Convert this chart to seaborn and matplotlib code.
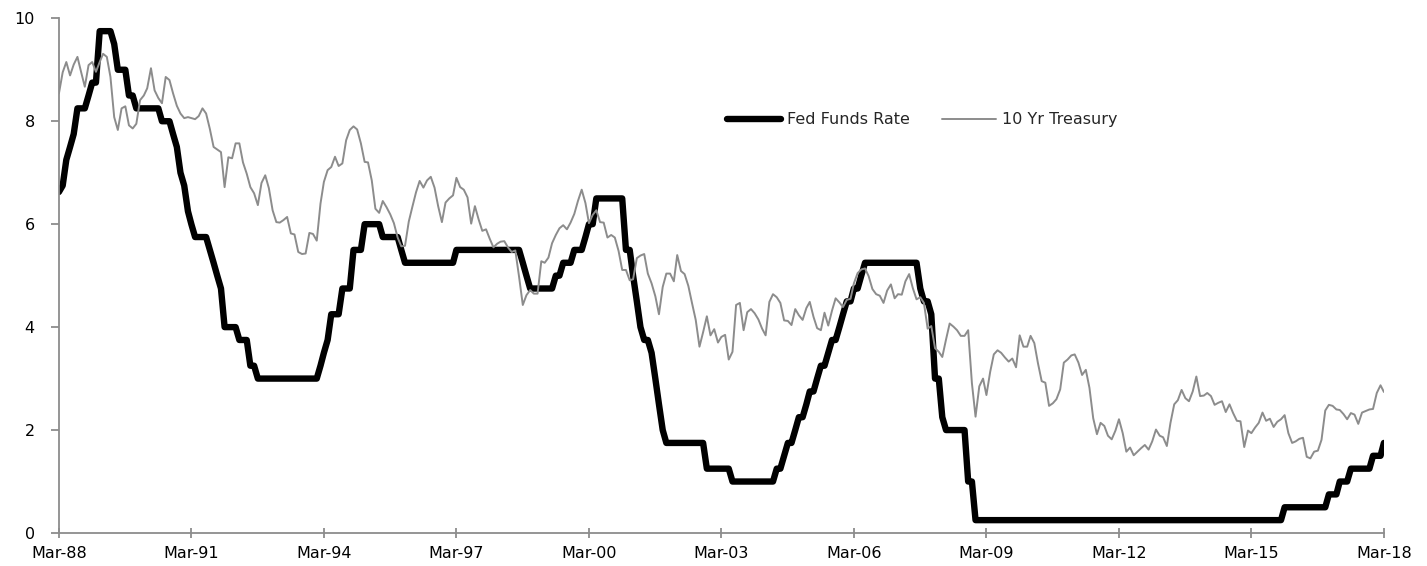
import matplotlib
matplotlib.use("Agg")
import matplotlib.pyplot as plt
import numpy as np
import pandas as pd
import seaborn as sns

# ---- data: monthly, Mar-1988 .. Mar-2018 (rows = calendar years) ----
fed_funds = (
    [6.625, 6.75, 7.25, 7.5, 7.75, 8.25, 8.25, 8.25, 8.5, 8.75]                      # 1988 Mar-Dec
    + [8.75, 9.75, 9.75, 9.75, 9.75, 9.5, 9.0, 9.0, 9.0, 8.5, 8.5, 8.25]             # 1989
    + [8.25, 8.25, 8.25, 8.25, 8.25, 8.25, 8.0, 8.0, 8.0, 7.75, 7.5, 7.0]            # 1990
    + [6.75, 6.25, 6.0, 5.75, 5.75, 5.75, 5.75, 5.5, 5.25, 5.0, 4.75, 4.0]           # 1991
    + [4.0, 4.0, 4.0, 3.75, 3.75, 3.75, 3.25, 3.25, 3.0, 3.0, 3.0, 3.0]              # 1992
    + [3.0, 3.0, 3.0, 3.0, 3.0, 3.0, 3.0, 3.0, 3.0, 3.0, 3.0, 3.0]                    # 1993
    + [3.0, 3.25, 3.5, 3.75, 4.25, 4.25, 4.25, 4.75, 4.75, 4.75, 5.5, 5.5]           # 1994
    + [5.5, 6.0, 6.0, 6.0, 6.0, 6.0, 5.75, 5.75, 5.75, 5.75, 5.75, 5.5]              # 1995
    + [5.25, 5.25, 5.25, 5.25, 5.25, 5.25, 5.25, 5.25, 5.25, 5.25, 5.25, 5.25]       # 1996
    + [5.25, 5.25, 5.5, 5.5, 5.5, 5.5, 5.5, 5.5, 5.5, 5.5, 5.5, 5.5]                 # 1997
    + [5.5, 5.5, 5.5, 5.5, 5.5, 5.5, 5.5, 5.5, 5.25, 5.0, 4.75, 4.75]                # 1998
    + [4.75, 4.75, 4.75, 4.75, 4.75, 5.0, 5.0, 5.25, 5.25, 5.25, 5.5, 5.5]           # 1999
    + [5.5, 5.75, 6.0, 6.0, 6.5, 6.5, 6.5, 6.5, 6.5, 6.5, 6.5, 6.5]                  # 2000
    + [5.5, 5.5, 5.0, 4.5, 4.0, 3.75, 3.75, 3.5, 3.0, 2.5, 2.0, 1.75]                # 2001
    + [1.75, 1.75, 1.75, 1.75, 1.75, 1.75, 1.75, 1.75, 1.75, 1.75, 1.25, 1.25]       # 2002
    + [1.25, 1.25, 1.25, 1.25, 1.25, 1.0, 1.0, 1.0, 1.0, 1.0, 1.0, 1.0]              # 2003
    + [1.0, 1.0, 1.0, 1.0, 1.0, 1.25, 1.25, 1.5, 1.75, 1.75, 2.0, 2.25]              # 2004
    + [2.25, 2.5, 2.75, 2.75, 3.0, 3.25, 3.25, 3.5, 3.75, 3.75, 4.0, 4.25]           # 2005
    + [4.5, 4.5, 4.75, 4.75, 5.0, 5.25, 5.25, 5.25, 5.25, 5.25, 5.25, 5.25]          # 2006
    + [5.25, 5.25, 5.25, 5.25, 5.25, 5.25, 5.25, 5.25, 4.75, 4.5, 4.5, 4.25]         # 2007
    + [3.0, 3.0, 2.25, 2.0, 2.0, 2.0, 2.0, 2.0, 2.0, 1.0, 1.0, 0.25]                 # 2008
    + [0.25] * 12                                                                    # 2009
    + [0.25] * 12                                                                    # 2010
    + [0.25] * 12                                                                    # 2011
    + [0.25] * 12                                                                    # 2012
    + [0.25] * 12                                                                    # 2013
    + [0.25] * 12                                                                    # 2014
    + [0.25, 0.25, 0.25, 0.25, 0.25, 0.25, 0.25, 0.25, 0.25, 0.25, 0.25, 0.5]        # 2015
    + [0.5, 0.5, 0.5, 0.5, 0.5, 0.5, 0.5, 0.5, 0.5, 0.5, 0.5, 0.75]                  # 2016
    + [0.75, 0.75, 1.0, 1.0, 1.0, 1.25, 1.25, 1.25, 1.25, 1.25, 1.25, 1.5]           # 2017
    + [1.5, 1.5, 1.75]                                                               # 2018 Jan-Mar
)

treasury_10y = (
    [8.54, 8.95, 9.15, 8.89, 9.10, 9.25, 8.95, 8.67, 9.09, 9.15]                      # 1988 Mar-Dec
    + [8.96, 9.15, 9.31, 9.25, 8.86, 8.08, 7.83, 8.25, 8.29, 7.92, 7.86, 7.95]       # 1989
    + [8.41, 8.50, 8.64, 9.03, 8.60, 8.45, 8.35, 8.86, 8.80, 8.54, 8.30, 8.15]       # 1990
    + [8.06, 8.08, 8.06, 8.04, 8.10, 8.25, 8.15, 7.85, 7.50, 7.45, 7.40, 6.72]       # 1991
    + [7.30, 7.28, 7.57, 7.57, 7.20, 6.98, 6.72, 6.60, 6.37, 6.80, 6.95, 6.70]       # 1992
    + [6.27, 6.04, 6.03, 6.08, 6.14, 5.82, 5.80, 5.46, 5.42, 5.43, 5.83, 5.81]       # 1993
    + [5.68, 6.40, 6.82, 7.05, 7.11, 7.31, 7.13, 7.18, 7.63, 7.83, 7.90, 7.84]       # 1994
    + [7.57, 7.21, 7.20, 6.85, 6.30, 6.22, 6.45, 6.33, 6.19, 6.02, 5.74, 5.57]       # 1995
    + [5.58, 6.05, 6.33, 6.62, 6.84, 6.71, 6.85, 6.92, 6.71, 6.35, 6.04, 6.42]       # 1996
    + [6.50, 6.56, 6.90, 6.72, 6.67, 6.52, 6.01, 6.35, 6.09, 5.87, 5.90, 5.72]       # 1997
    + [5.55, 5.62, 5.66, 5.67, 5.55, 5.46, 5.49, 4.98, 4.43, 4.62, 4.72, 4.65]       # 1998
    + [4.65, 5.28, 5.25, 5.35, 5.63, 5.79, 5.92, 5.98, 5.90, 6.03, 6.20, 6.45]       # 1999
    + [6.67, 6.41, 6.02, 6.18, 6.27, 6.04, 6.03, 5.74, 5.79, 5.74, 5.48, 5.11]       # 2000
    + [5.11, 4.91, 4.93, 5.34, 5.39, 5.42, 5.04, 4.85, 4.60, 4.25, 4.78, 5.04]       # 2001
    + [5.04, 4.89, 5.40, 5.09, 5.03, 4.80, 4.47, 4.14, 3.62, 3.90, 4.21, 3.84]       # 2002
    + [3.96, 3.70, 3.81, 3.85, 3.37, 3.52, 4.43, 4.47, 3.94, 4.29, 4.35, 4.27]       # 2003
    + [4.15, 3.97, 3.84, 4.49, 4.64, 4.58, 4.47, 4.13, 4.12, 4.04, 4.35, 4.23]       # 2004
    + [4.14, 4.37, 4.49, 4.20, 3.98, 3.94, 4.28, 4.03, 4.32, 4.56, 4.48, 4.39]       # 2005
    + [4.53, 4.55, 4.85, 5.05, 5.12, 5.14, 4.99, 4.74, 4.64, 4.61, 4.47, 4.71]       # 2006
    + [4.83, 4.56, 4.64, 4.63, 4.89, 5.03, 4.76, 4.54, 4.58, 4.47, 3.97, 4.02]       # 2007
    + [3.59, 3.52, 3.42, 3.76, 4.07, 4.01, 3.94, 3.83, 3.83, 3.94, 2.91, 2.26]       # 2008
    + [2.85, 3.00, 2.68, 3.13, 3.47, 3.55, 3.50, 3.41, 3.33, 3.39, 3.22, 3.84]       # 2009
    + [3.62, 3.62, 3.83, 3.69, 3.30, 2.95, 2.92, 2.47, 2.52, 2.60, 2.79, 3.31]       # 2010
    + [3.37, 3.45, 3.47, 3.31, 3.07, 3.17, 2.82, 2.23, 1.92, 2.14, 2.08, 1.89]       # 2011
    + [1.82, 1.99, 2.21, 1.94, 1.58, 1.66, 1.51, 1.58, 1.65, 1.71, 1.62, 1.78]       # 2012
    + [2.01, 1.89, 1.86, 1.69, 2.14, 2.50, 2.58, 2.78, 2.62, 2.56, 2.75, 3.04]       # 2013
    + [2.66, 2.67, 2.72, 2.66, 2.49, 2.53, 2.56, 2.35, 2.50, 2.33, 2.18, 2.17]       # 2014
    + [1.67, 1.99, 1.94, 2.05, 2.14, 2.34, 2.18, 2.22, 2.06, 2.16, 2.21, 2.29]       # 2015
    + [1.94, 1.75, 1.78, 1.83, 1.85, 1.48, 1.45, 1.58, 1.60, 1.81, 2.38, 2.49]       # 2016
    + [2.47, 2.40, 2.39, 2.31, 2.21, 2.33, 2.30, 2.12, 2.34, 2.37, 2.40, 2.41]       # 2017
    + [2.72, 2.87, 2.74]                                                             # 2018 Jan-Mar
)

series_names = ["Fed Funds Rate", "10 Yr Treasury"]
y_ticks = [0, 2, 4, 6, 8, 10]

dates = pd.date_range("1988-03-01", periods=len(fed_funds), freq="MS")
df = pd.DataFrame({"date": dates, series_names[0]: fed_funds, series_names[1]: treasury_10y})

# ---- figure ----
sns.set_style("white")
plt.rcParams["font.family"] = ["DejaVu Sans"]

fig = plt.figure(figsize=(14.27, 5.66), dpi=100)
ax = fig.add_axes([0.0413, 0.0583, 0.9285, 0.9094])

sns.lineplot(data=df, x="date", y=series_names[0], ax=ax, color="black",
             linewidth=4.6, label=series_names[0], solid_joinstyle="round",
             solid_capstyle="round")
sns.lineplot(data=df, x="date", y=series_names[1], ax=ax, color="#8c8c8c",
             linewidth=1.4, label=series_names[1])

ax.set_xlim(dates[0], dates[-1])
ax.set_ylim(0, 10)
ax.set_yticks(y_ticks)
ax.set_yticklabels([str(v) for v in y_ticks])

tick_dates = dates[::36]
ax.set_xticks(tick_dates)
ax.set_xticklabels([d.strftime("%b-%y") for d in tick_dates])

ax.set_xlabel("")
ax.set_ylabel("")

axis_gray = "#8c8c8c"
for side in ["top", "right"]:
    ax.spines[side].set_visible(False)
for side in ["left", "bottom"]:
    ax.spines[side].set_color(axis_gray)
    ax.spines[side].set_linewidth(1.3)

ax.tick_params(axis="y", direction="out", length=5.5, width=1.3, color=axis_gray,
               pad=12, labelsize=11.5, labelcolor="black", left=True)
ax.tick_params(axis="x", direction="inout", length=7, width=1.3, color=axis_gray,
               pad=6, labelsize=11.5, labelcolor="black", bottom=True)
ax.grid(False)

leg = ax.legend(loc="center left", bbox_to_anchor=(0.5095, 0.788),
                bbox_transform=fig.transFigure, ncol=2, frameon=False,
                fontsize=11.5, handlelength=3.4, handletextpad=0.35,
                columnspacing=2.0, borderpad=0, borderaxespad=0)
for h in leg.get_lines():
    h.set_solid_capstyle("round")

fig.savefig("out.png", dpi=100, facecolor="white")
